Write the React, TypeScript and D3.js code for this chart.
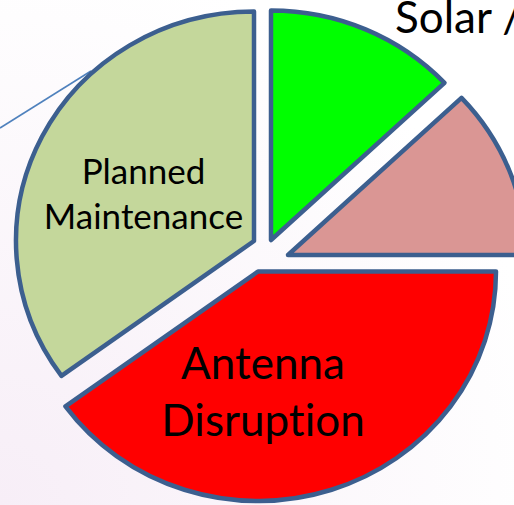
import React from "react";
import * as d3 from "d3";

const categories = ["Solar /", "Other", "Antenna Disruption", "Planned Maintenance"];
const values = [13, 12, 40, 35];
const colors = ["#00FF00", "#DA9694", "#FF0000", "#C4D79B"];
const labelLines: string[][] = [[], [], ["Antenna", "Disruption"], ["Planned", "Maintenance"]];

const W = 514;
const H = 505;
const CX = 262;
const CY = 252;
const RX = 238;
const RY = 229.5;
// per-slice explode offsets (layout)
const OFFSETS: [number, number][] = [[9, -12], [26, 3], [-4, 19.5], [-8, -11]];
// label anchor (center x, first baseline y) and styling (layout)
const LABEL_POS: ([number, number] | null)[] = [null, null, [263, 379], [143.5, 184]];
const LABEL_SIZE = [0, 0, 44, 35];
const LABEL_LEAD = [0, 0, 57, 45];

export default function App() {
  const pie = d3.pie<number>().sort(null).value((d) => d)(values);
  const arc = d3.arc<d3.PieArcDatum<number>>().innerRadius(0).outerRadius(RX);
  const sy = RY / RX;
  const font = "Lato, 'Open Sans', sans-serif";
  const textStyle = { fontVariantLigatures: "none" } as React.CSSProperties;
  return (
    <svg
      width={W}
      height={H}
      style={{ position: "absolute", left: 0, top: 0, display: "block" }}
    >
      <defs>
        <radialGradient id="bg" cx="0" cy="1" r="1.1">
          <stop offset="0" stopColor="#F7EEF7" />
          <stop offset="1" stopColor="#FFFFFF" />
        </radialGradient>
      </defs>
      <rect x={0} y={0} width={W} height={H} fill="url(#bg)" />
      <line x1={0} y1={128} x2={91} y2={71} stroke="#4F81BD" strokeWidth={1.6} />
      {pie.map((p, i) => (
        <g key={categories[i]} transform={`translate(${CX + OFFSETS[i][0]},${CY + OFFSETS[i][1]}) scale(1,${sy})`}>
          <path
            d={arc(p) || ""}
            fill={colors[i]}
            stroke="#3C5F8F"
            strokeWidth={4.5}
            strokeLinejoin="round"
            vectorEffect="non-scaling-stroke"
          />
        </g>
      ))}
      {labelLines.map((lines, i) =>
        LABEL_POS[i] ? (
          <text
            key={"l" + i}
            x={LABEL_POS[i]![0]}
            y={LABEL_POS[i]![1]}
            textAnchor="middle"
            fontFamily={font}
            fontSize={LABEL_SIZE[i]}
            fill="#000"
            style={textStyle}
          >
            {lines.map((ln, j) => (
              <tspan key={j} x={LABEL_POS[i]![0]} y={LABEL_POS[i]![1] + j * LABEL_LEAD[i]}>
                {ln}
              </tspan>
            ))}
          </text>
        ) : null
      )}
      <text x={395} y={33} fontFamily={font} fontSize={44} fill="#000" style={textStyle}>
        {categories[0]}
      </text>
    </svg>
  );
}
